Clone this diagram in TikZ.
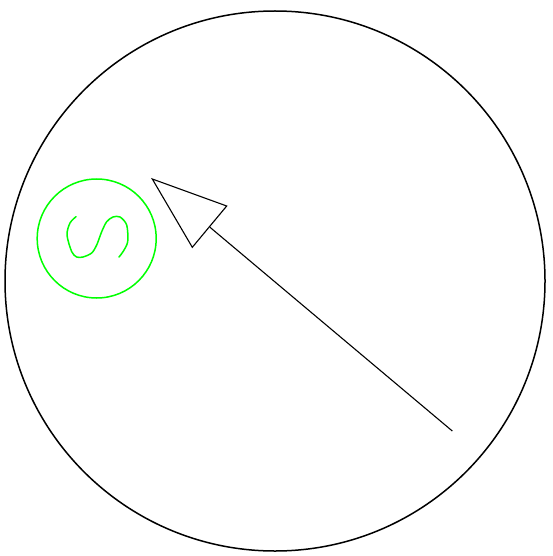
\documentclass[tikz,border=0pt]{standalone}
\begin{document}
\begin{tikzpicture}[x=1pt,y=-1pt,
  ring/.style={draw=black,line width=1.5pt},
  green ring/.style={draw=green,line width=1.5pt},
  arrowline/.style={draw=black,line width=1.1pt,line join=miter}]
\useasboundingbox (0,0) rectangle (552,556);
% big circle
\draw[ring] (275,281) circle (270);
% green circle with sideways S
\draw[green ring] (96.7,238.5) circle (59.5);
\draw[green ring,line join=round,line cap=round]
  plot[smooth,tension=0.5] coordinates {(76,216.7) (70,223) (67,235) (71.7,251.7) (76.7,257) (83,257)
  (91.7,253) (96.7,245) (101.7,231.7) (106.7,221.7) (113,217)
  (120,217) (126.7,225) (127.7,241.7) (123,251.7) (119,257)};
% arrow
\coordinate (tail) at (452.3,431);
\coordinate (base) at (210,227.3);
\coordinate (tip) at (152.3,179);
\coordinate (c1) at (226.7,206);
\coordinate (c2) at (192.3,247.3);
\draw[arrowline] (tail) -- (base);
\draw[arrowline] (tip) -- (c1) -- (c2) -- cycle;
\end{tikzpicture}
\end{document}
